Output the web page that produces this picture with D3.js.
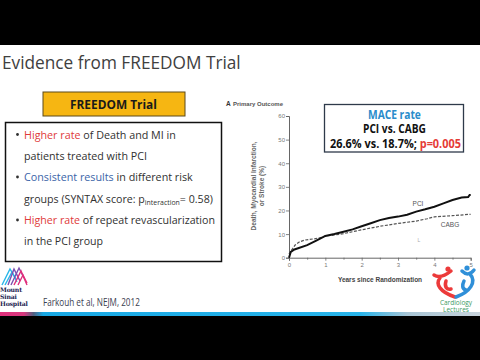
<!DOCTYPE html>
<html><head><meta charset="utf-8">
<script src="https://cdn.jsdelivr.net/npm/d3@7"></script>
<style>html,body{margin:0;padding:0;background:#fff;}svg{display:block;}</style>
</head><body>
<svg id="c" width="480" height="360"></svg>
<script>
// ---- data ----
const pciYears  = [0,0.05,0.15,0.25,0.5,0.75,1,1.25,1.5,1.75,2,2.25,2.5,2.75,3,3.25,3.5,3.75,4,4.25,4.5,4.75,4.93,4.97,5];
const pciRate   = [0,2.5,3.5,4.0,5.3,7.2,9.2,10.0,11.0,12.0,13.3,14.6,15.9,16.8,17.4,18.2,19.5,20.5,21.6,23.0,24.4,25.5,25.7,26.6,26.6];
const cabgYears = [0,0.05,0.1,0.17,0.3,0.45,0.7,0.9,1,1.25,1.5,1.75,2,2.5,3,3.5,3.8,4,4.5,5];
const cabgRate  = [1.5,2.8,3.8,5.4,6.8,7.5,8.0,8.6,9.2,9.6,10.2,11.0,11.8,13.3,14.5,15.5,16.5,17.3,17.8,18.4];
const yTicks = [0,10,20,30,40,50,60];
const xTicks = [0,1,2,3,4,5];
const xMinor = [0.5,1.5,2.5,3.5,4.5];

const svg = d3.select("#c");
const SLIDE = "'Open Sans', 'Noto Sans', sans-serif";
const CHART = "'Liberation Sans', Arial, sans-serif";

function fit(t, x, y, w) {
  const bw = t.node().getComputedTextLength();
  const s = w / bw;
  t.attr("x", 0).attr("y", 0).attr("transform", `translate(${x},${y}) scale(${s},1)`);
  return t;
}

// black bars
svg.append("rect").attr("x",0).attr("y",0).attr("width",480).attr("height",45).attr("fill","#000");
svg.append("rect").attr("x",0).attr("y",316).attr("width",480).attr("height",44).attr("fill","#000");
const grad = svg.append("defs").append("linearGradient").attr("id","strip");
[[0,"#e0307c"],[0.05,"#d8387e"],[0.07,"#506080"],[0.09,"#18a8e4"],[0.75,"#28b4ea"],[0.85,"#a8c4d4"],[1,"#c8d4dc"]]
  .forEach(([o,c]) => grad.append("stop").attr("offset",o).attr("stop-color",c));
svg.append("rect").attr("x",0).attr("y",312).attr("width",480).attr("height",4).attr("fill","url(#strip)");

// title
fit(svg.append("text").attr("font-family",SLIDE).attr("font-size",19).attr("fill","#404040")
  .text("Evidence from FREEDOM Trial"), 2, 69, 239);

// FREEDOM Trial box
svg.append("rect").attr("x",43).attr("y",92).attr("width",142).attr("height",24)
  .attr("fill","#f6b612").attr("stroke","#5c4a1a").attr("stroke-width",1);
fit(svg.append("text").attr("font-family",SLIDE).attr("font-size",13).attr("font-weight","bold").attr("fill","#1a1a1a")
  .text("FREEDOM Trial"), 70, 109, 87);

// bullet box
svg.append("rect").attr("x",5.5).attr("y",122.5).attr("width",216).attr("height",139)
  .attr("fill","#fff").attr("stroke","#111").attr("stroke-width",1.5);

const lines = [
  {y:138.5, w:152, parts:[["Higher rate","#e03a3a"],[" of Death and MI in","#303030"]], bullet:true},
  {y:159.5, w:123, parts:[["patients treated with PCI","#303030"]]},
  {y:181,   w:169, parts:[["Consistent results","#3a64a8"],[" in different risk","#303030"]], bullet:true},
  {y:202.5, w:189, parts:[["groups (SYNTAX score: p","#303030"],["interaction","#303030",true],["= 0.58)","#303030"]]},
  {y:224,   w:191, parts:[["Higher rate","#e03a3a"],[" of repeat revascularization","#303030"]], bullet:true},
  {y:245,   w:79,  parts:[["in the PCI group","#303030"]]}
];
lines.forEach(l => {
  if (l.bullet) svg.append("circle").attr("cx",17.5).attr("cy",l.y-4).attr("r",1.4).attr("fill","#303030");
  const t = svg.append("text").attr("font-family",SLIDE).attr("font-size",11.5);
  l.parts.forEach(p => {
    const ts = t.append("tspan").attr("fill",p[1]).text(p[0]);
    if (p[2]) ts.attr("font-size",7.5).attr("dy",2);
    else if (p[0].startsWith("=")) ts.attr("dy",-2);
  });
  fit(t, 24, l.y, l.w);
});

// footer text
fit(svg.append("text").attr("font-family",SLIDE).attr("font-size",10).attr("fill","#3a4050")
  .text("Farkouh et al, NEJM, 2012"), 43, 306, 97);

// Mount Sinai logo
const ms = svg.append("g");
const chev = [[ "#29b6e8", 2, 285, 10, 269, 16, 279 ], ["#29b6e8", 5, 285, 12, 272, 17, 282],
              ["#7b4fb0", 8, 285, 14, 269, 20, 281 ], ["#7b4fb0", 11, 285, 19, 268, 24, 278],
              ["#e0307c", 14, 285, 21, 271, 27, 285 ], ["#e0307c", 18, 285, 23, 275, 27, 283]];
chev.forEach(c => ms.append("polyline")
  .attr("points",`${c[1]},${c[2]} ${c[3]},${c[4]} ${c[5]},${c[6]}`)
  .attr("fill","none").attr("stroke",c[0]).attr("stroke-width",1.4));
["Mount","Sinai","Hospital"].forEach((s,i) =>
  ms.append("text").attr("x",0).attr("y",292+i*7.2).attr("font-family","'DejaVu Serif', serif")
    .attr("font-size",6.2).attr("font-weight","bold").attr("fill","#1c1c50").attr("letter-spacing",-0.2).text(s));

// Cardiology Lectures logo
const cl = svg.append("g");
cl.append("path").attr("d","M434,275 C440,279 446,275 451,271 M440,278 C435,284 440,292 455,297 M446,281 C444,287 447,290 451,289")
  .attr("fill","none").attr("stroke","#ec3a3a").attr("stroke-width",3.5).attr("stroke-linecap","round");
cl.append("circle").attr("cx",448).attr("cy",269).attr("r",2.6).attr("fill","#ec3a3a");
cl.append("path").attr("d","M462,271 C466,275 470,275 474,270 M470,274 C477,282 470,292 456,297 M464,281 C462,285 462,289 466,290")
  .attr("fill","none").attr("stroke","#2f8fd8").attr("stroke-width",3.5).attr("stroke-linecap","round");
cl.append("circle").attr("cx",467).attr("cy",268).attr("r",2.6).attr("fill","#2f8fd8");
cl.append("text").attr("x",456).attr("y",304.5).attr("text-anchor","middle").attr("font-family",SLIDE)
  .attr("font-size",6.5).attr("fill","#3a9a64").text("Cardiology");
cl.append("text").attr("x",456).attr("y",312).attr("text-anchor","middle").attr("font-family",SLIDE)
  .attr("font-size",6.5).attr("fill","#3a9a64").text("Lectures");

// ---- chart ----
const x = d3.scaleLinear().domain([0,5]).range([289,470.7]);
const y = d3.scaleLinear().domain([0,60]).range([257.7,116]);

svg.append("text").attr("x",226).attr("y",106).attr("font-family",CHART).attr("font-size",6.5)
  .attr("font-weight","bold").attr("fill","#333").text("A");
svg.append("text").attr("x",233).attr("y",106).attr("font-family",CHART).attr("font-size",6)
  .attr("font-weight","bold").attr("fill","#555").text("Primary Outcome");

const fmt = d3.format("d");
const yAxis = svg.append("g").attr("transform","translate(289,0)")
  .call(d3.axisLeft(y).tickValues(yTicks).tickFormat(fmt).tickSize(3).tickPadding(1));
const xAxis = svg.append("g").attr("transform","translate(0,257.7)")
  .call(d3.axisBottom(x).tickValues(xTicks).tickFormat(fmt).tickSize(3).tickPadding(2));
svg.append("g").attr("transform","translate(0,257.7)")
  .call(d3.axisBottom(x).tickValues(xMinor).tickSize(2).tickFormat(""))
  .call(g => g.select(".domain").remove());
svg.selectAll(".domain").attr("stroke","#555").attr("stroke-width",0.9);
svg.selectAll(".tick line").attr("stroke","#666").attr("stroke-width",0.8);
[yAxis, xAxis].forEach(a => a.selectAll("text").attr("font-family",CHART).attr("font-size",6).attr("fill","#777"));

svg.append("text").attr("transform","translate(256,186) rotate(-90)").attr("text-anchor","middle")
  .attr("font-family",CHART).attr("font-size",6.5).attr("font-weight","bold").attr("fill","#666")
  .text("Death, Myocardial Infarction,");
svg.append("text").attr("transform","translate(264,186) rotate(-90)").attr("text-anchor","middle")
  .attr("font-family",CHART).attr("font-size",6.5).attr("font-weight","bold").attr("fill","#666")
  .text("or Stroke (%)");
svg.append("text").attr("x",380).attr("y",282).attr("text-anchor","middle")
  .attr("font-family",CHART).attr("font-size",6.5).attr("font-weight","bold").attr("fill","#444")
  .text("Years since Randomization");

const line = d3.line().x(d => x(d[0])).y(d => y(d[1]));
svg.append("path").datum(cabgYears.map((t,i)=>[t,cabgRate[i]]))
  .attr("d",line).attr("fill","none").attr("stroke","#555").attr("stroke-width",1.2).attr("stroke-dasharray","3,1.5");
svg.append("path").datum(pciYears.map((t,i)=>[t,pciRate[i]]))
  .attr("d",line).attr("fill","none").attr("stroke","#111").attr("stroke-width",2);

svg.append("text").attr("x",418).attr("y",206).attr("text-anchor","middle").attr("font-family",CHART)
  .attr("font-size",6.5).attr("fill","#555").text("PCI");
svg.append("text").attr("x",450).attr("y",227).attr("text-anchor","middle").attr("font-family",CHART)
  .attr("font-size",6.5).attr("fill","#555").text("CABG");
svg.append("text").attr("x",419).attr("y",242).attr("text-anchor","middle").attr("font-family",CHART)
  .attr("font-size",5).attr("fill","#aaa").text("L");

// MACE box
svg.append("rect").attr("x",324.5).attr("y",104.5).attr("width",139).attr("height",47.5)
  .attr("fill","#fff").attr("stroke","#2e3a4a").attr("stroke-width",1.3);
fit(svg.append("text").attr("font-family",SLIDE).attr("font-size",12).attr("font-weight","bold").attr("fill","#2a8ccb")
  .text("MACE rate"), 368, 118.5, 53);
fit(svg.append("text").attr("font-family",SLIDE).attr("font-size",12).attr("font-weight","bold").attr("fill","#111")
  .text("PCI vs. CABG"), 363, 133, 63);
const m3 = svg.append("text").attr("font-family",SLIDE).attr("font-size",12).attr("font-weight","bold");
m3.append("tspan").attr("fill","#111").text("26.6% vs. 18.7%; ");
m3.append("tspan").attr("fill","#e53b36").text("p=0.005");
fit(m3, 330, 147.5, 131);
</script>
</body></html>
